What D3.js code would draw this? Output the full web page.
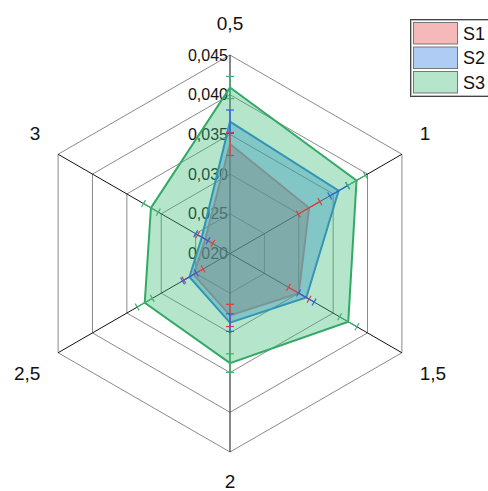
<!DOCTYPE html>
<html><head><meta charset="utf-8">
<script src="https://cdn.jsdelivr.net/npm/d3@7"></script>
<style>body{margin:0;background:#fff}svg{display:block}text{font-family:"Liberation Sans",Arial,sans-serif}</style>
</head><body>
<script>
const axesLabels = ["0,5","1","1,5","2","2,5","3"];
const tickValues = [0.020,0.025,0.030,0.035,0.040,0.045];
const seriesNames = ["S1","S2","S3"];
const s1 = [0.0338,0.0315,0.0300,0.0278,0.0253,0.0236];
const s1Err = [0.00145,0.00157,0.0015,0.0014,0.0014,0.0011];
const s2 = [0.0366,0.0358,0.0311,0.0287,0.0259,0.0241];
const s2Err = [0.00147,0.0013,0.00113,0.0011,0.001,0.0009];
const s3 = [0.0409,0.0384,0.0372,0.0338,0.0324,0.0315];
const s3Err = [0.0014,0.0013,0.00126,0.00117,0.0011,0.00108];

const W=488,H=491,cx=230,cy=253.5,R=198.5;
const svg=d3.select("body").append("svg").attr("width",W).attr("height",H);
const r=d3.scaleLinear().domain([0.020,0.045]).range([0,R]);
const n=axesLabels.length;
const ang=d3.scaleLinear().domain([0,n]).range([0,2*Math.PI]);
const pt=(i,rad)=>[cx+rad*Math.sin(ang(i)),cy-rad*Math.cos(ang(i))];
const fmt=v=>d3.format(".3f")(v).replace(".",",");

const series=[
 {name:seriesNames[0],vals:s1,err:s1Err,fill:"rgb(232,70,70)",fo:0.38,line:"rgb(235,125,125)",bar:"rgb(230,60,60)"},
 {name:seriesNames[1],vals:s2,err:s2Err,fill:"rgb(45,120,230)",fo:0.38,line:"rgb(45,125,215)",bar:"rgb(40,100,225)"},
 {name:seriesNames[2],vals:s3,err:s3Err,fill:"rgb(60,190,120)",fo:0.38,line:"rgb(50,170,100)",bar:"rgb(60,180,110)"}
];

// grid hexagons
tickValues.filter(t=>r(t)>0).forEach(t=>{
  const pts=d3.range(n).map(i=>pt(i,r(t)));
  svg.append("path").attr("d",d3.line()(pts)+"Z").attr("fill","none").attr("stroke","#8a8a8a").attr("stroke-width",1);
});
// spokes
d3.range(n).forEach(i=>{
  const p=pt(i,R);
  svg.append("line").attr("x1",cx).attr("y1",cy).attr("x2",p[0]).attr("y2",p[1]).attr("stroke","#111").attr("stroke-width",1);
});
// tick labels
svg.selectAll("text.tick").data(tickValues).enter().append("text")
 .attr("x",cx-2).attr("y",d=>cy-r(d)).attr("text-anchor","end").attr("dominant-baseline","central")
 .attr("font-size",16).attr("fill","#111").text(fmt);
// axis labels
axesLabels.forEach((lab,i)=>{
  const a=ang(i), s=Math.sin(a), c=Math.cos(a);
  const side=Math.abs(s)>0.1;
  const x=side? cx+219*s : cx;
  const y=cy-(side?240:(c>0?230:228))*c;
  svg.append("text").attr("x",x).attr("y",y).attr("text-anchor",side?(s>0?"start":"end"):"middle")
   .attr("dominant-baseline","central").attr("font-size",19).attr("fill","#111").text(lab);
});
// polygons
series.forEach(s=>{
  const pts=s.vals.map((v,i)=>pt(i,r(v)));
  svg.append("path").attr("d",d3.line()(pts)+"Z").attr("fill",s.fill).attr("fill-opacity",s.fo)
   .attr("stroke",s.line).attr("stroke-width",2).attr("stroke-linejoin","miter");
});
// error bars
const cap=4;
series.forEach(s=>{
  s.vals.forEach((v,i)=>{
    const a=ang(i), ux=Math.sin(a), uy=-Math.cos(a), px=-uy, py=ux;
    const lo=r(v-s.err[i]), hi=r(v+s.err[i]);
    const g=svg.append("g").attr("stroke",s.bar).attr("stroke-width",1.2);
    const p1=pt(i,lo), p2=pt(i,hi);
    g.append("line").attr("x1",p1[0]).attr("y1",p1[1]).attr("x2",p2[0]).attr("y2",p2[1]);
    [p1,p2].forEach(p=>g.append("line").attr("x1",p[0]-px*cap).attr("y1",p[1]-py*cap).attr("x2",p[0]+px*cap).attr("y2",p[1]+py*cap));
  });
});
// legend
const lg=svg.append("g");
lg.append("rect").attr("x",410.5).attr("y",19.5).attr("width",90).attr("height",77).attr("fill","#fff").attr("stroke","#444").attr("stroke-width",1);
lg.append("rect").attr("x",411.5).attr("y",20.5).attr("width",90).attr("height",75).attr("fill","none").attr("stroke","#bbb").attr("stroke-width",1);
series.forEach((s,k)=>{
  const y=22.5+k*24.5;
  lg.append("rect").attr("x",413.5).attr("y",y).attr("width",44).attr("height",21.5)
   .attr("fill",s.fill).attr("fill-opacity",s.fo).attr("stroke","#777").attr("stroke-width",1);
  lg.append("text").attr("x",463).attr("y",y+11).attr("dominant-baseline","central").attr("font-size",18).attr("fill","#111").text(s.name);
});
</script>
</body></html>
